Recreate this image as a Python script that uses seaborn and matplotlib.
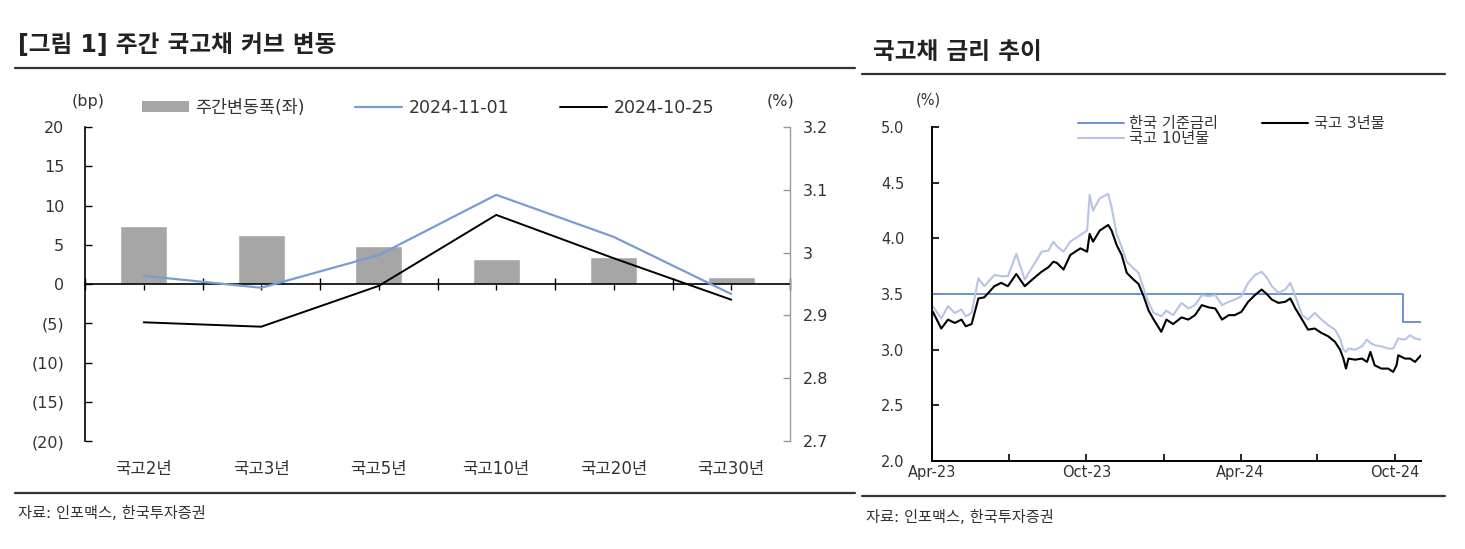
import numpy as np
import pandas as pd
import matplotlib
matplotlib.use("Agg")
import matplotlib.pyplot as plt
import matplotlib.patches as mpatches
from matplotlib.lines import Line2D
from matplotlib.ticker import FuncFormatter, FixedLocator
import matplotlib.dates as mdates
import seaborn as sns

sns.set_theme(style="white")
plt.rcParams["font.family"] = ["DejaVu Sans", "Noto Sans CJK KR"]
plt.rcParams["axes.unicode_minus"] = False

# ---------------- data: left chart ----------------
categories = ["국고2년", "국고3년", "국고5년", "국고10년", "국고20년", "국고30년"]
weekly_change_bp = [7.4, 6.2, 4.9, 3.2, 3.4, 0.9]
yield_2024_11_01 = [2.963, 2.944, 2.996, 3.092, 3.025, 2.934]
yield_2024_10_25 = [2.889, 2.882, 2.947, 3.060, 2.991, 2.925]
left_yticks = [-20, -15, -10, -5, 0, 5, 10, 15, 20]
right_yticks = [2.7, 2.8, 2.9, 3.0, 3.1, 3.2]

# ---------------- data: right chart ----------------
base_dates = ["2023-04-01", "2024-10-11", "2024-11-01"]
base_rate = [3.50, 3.25, 3.25]

obs_dates = [
    "2023-04-02", "2023-04-12", "2023-04-20", "2023-04-28",
    "2023-05-06", "2023-05-11", "2023-05-18", "2023-05-26",
    "2023-06-02", "2023-06-08", "2023-06-14", "2023-06-22", "2023-06-30",
    "2023-07-10", "2023-07-20",
    "2023-08-01", "2023-08-09", "2023-08-17", "2023-08-23", "2023-08-27",
    "2023-09-04", "2023-09-12", "2023-09-24",
    "2023-10-02", "2023-10-05", "2023-10-09", "2023-10-17", "2023-10-27", "2023-10-31",
    "2023-11-06", "2023-11-12", "2023-11-18", "2023-11-26",
    "2023-12-02", "2023-12-08", "2023-12-14", "2023-12-20", "2023-12-29",
    "2024-01-04", "2024-01-12", "2024-01-22", "2024-01-30",
    "2024-02-07", "2024-02-15", "2024-02-23",
    "2024-03-02", "2024-03-10", "2024-03-18", "2024-03-25",
    "2024-04-02", "2024-04-10", "2024-04-18", "2024-04-26",
    "2024-05-02", "2024-05-08", "2024-05-16", "2024-05-24", "2024-05-30",
    "2024-06-05", "2024-06-13", "2024-06-20", "2024-06-28",
    "2024-07-06", "2024-07-14", "2024-07-22", "2024-07-28",
    "2024-08-01", "2024-08-04", "2024-08-07", "2024-08-15", "2024-08-23", "2024-08-29",
    "2024-09-02", "2024-09-07", "2024-09-15", "2024-09-23", "2024-09-29",
    "2024-10-03", "2024-10-05", "2024-10-13", "2024-10-19", "2024-10-25",
    "2024-11-01",
]
ktb_3y = [
    3.34, 3.19, 3.27, 3.24,
    3.27, 3.21, 3.23, 3.46,
    3.47, 3.52, 3.57, 3.60, 3.57,
    3.68, 3.57,
    3.65, 3.70, 3.74, 3.79, 3.78,
    3.72, 3.85, 3.91,
    3.88, 4.04, 3.97, 4.07, 4.12, 4.07,
    3.94, 3.85, 3.69, 3.63,
    3.59, 3.48, 3.35, 3.27, 3.16,
    3.27, 3.23, 3.29, 3.27,
    3.31, 3.40, 3.38,
    3.37, 3.27, 3.31, 3.31,
    3.34, 3.43, 3.49, 3.54,
    3.50, 3.45, 3.42, 3.43, 3.46,
    3.37, 3.27, 3.18, 3.19,
    3.15, 3.12, 3.07, 3.00,
    2.92, 2.83, 2.92, 2.91, 2.92, 2.89,
    2.98, 2.86, 2.83, 2.83, 2.80,
    2.86, 2.95, 2.92, 2.92, 2.89,
    2.95,
]
ktb_10y = [
    3.39, 3.28, 3.39, 3.33,
    3.36, 3.30, 3.33, 3.64,
    3.57, 3.62, 3.67, 3.66, 3.66,
    3.86, 3.63,
    3.78, 3.88, 3.89, 3.97, 3.93,
    3.88, 3.97, 4.03,
    4.07, 4.39, 4.25, 4.36, 4.40, 4.28,
    4.04, 3.92, 3.79, 3.73,
    3.69, 3.55, 3.42, 3.33, 3.30,
    3.35, 3.31, 3.42, 3.37,
    3.40, 3.49, 3.48,
    3.49, 3.40, 3.43, 3.45,
    3.48, 3.60, 3.67, 3.70,
    3.65, 3.57, 3.51, 3.54, 3.60,
    3.48, 3.31, 3.27, 3.33,
    3.27, 3.22, 3.18, 3.10,
    3.00, 2.98, 3.01, 3.00, 3.03, 3.09,
    3.06, 3.04, 3.03, 3.01, 3.01,
    3.07, 3.10, 3.09, 3.13, 3.10,
    3.09,
]

# ---------------- styling ----------------
W, H = 1465, 549
TXT = "#333333"
BAR_C = "#a6a6a6"
BLUE = "#7b9bd3"
BASE_C = "#6f90cc"
LIGHT = "#b8c4e4"

fig = plt.figure(figsize=(W / 100, H / 100), dpi=100)
fig.patch.set_facecolor("white")


def fx(px):
    return px / W


def fy(py):
    return 1 - py / H


# ================= LEFT CHART =================
ax = fig.add_axes([fx(85), fy(441), fx(790 - 85), (441 - 127) / H])
ax2 = ax.twinx()

pos = np.arange(len(categories))
sns.barplot(x=categories, y=weekly_change_bp, ax=ax, color=BAR_C,
            saturation=1, width=0.4, legend=False)
sns.lineplot(x=pos, y=yield_2024_11_01, ax=ax2, color=BLUE, lw=1.6,
             legend=False, sort=False)
sns.lineplot(x=pos, y=yield_2024_10_25, ax=ax2, color="black", lw=1.4,
             legend=False, sort=False)

ax.set_xlim(-0.5, len(categories) - 0.5)
ax.set_ylim(-20, 20)
ax2.set_ylim(2.7, 3.2)
ax.set_xlabel("")
ax.set_ylabel("")
ax2.set_ylabel("")

for s in ["top", "right"]:
    ax.spines[s].set_visible(False)
ax.spines["bottom"].set_position(("data", 0))
ax.spines["bottom"].set_color("black")
ax.spines["bottom"].set_linewidth(1.2)
ax.spines["left"].set_color("black")
ax.spines["left"].set_linewidth(1.2)
for s in ["top", "bottom", "left"]:
    ax2.spines[s].set_visible(False)
ax2.spines["right"].set_color("#9a9a9a")
ax2.spines["right"].set_linewidth(1.0)

ax.xaxis.set_major_locator(FixedLocator(pos))
ax.xaxis.set_minor_locator(FixedLocator(np.arange(-0.5, len(categories), 1.0)))
ax.tick_params(axis="x", which="both", direction="inout", length=9, width=1,
               color="black", labelbottom=False, bottom=True)

ax.set_yticks(left_yticks)
ax.yaxis.set_major_formatter(
    FuncFormatter(lambda v, p: f"({abs(int(round(v)))})" if v < 0 else f"{int(round(v))}"))
ax.tick_params(axis="y", direction="in", length=5, width=1, color="black",
               labelsize=11.5, labelcolor=TXT, pad=15, left=True)

ax2.set_yticks(right_yticks)
ax2.yaxis.set_major_formatter(FuncFormatter(lambda v, p: f"{round(v, 2):g}"))
ax2.tick_params(axis="y", direction="in", length=5, width=1, color="#9a9a9a",
                labelsize=11.5, labelcolor=TXT, pad=9, right=True)

sec = ax.secondary_xaxis(-0.045)
sec.set_xticks(pos, labels=categories)
sec.tick_params(length=0, labelsize=12, labelcolor=TXT)
sec.spines["bottom"].set_visible(False)

fig.text(fx(88), fy(101), "(bp)", fontsize=11.5, color=TXT, ha="center", va="center")
fig.text(fx(781), fy(101), "(%)", fontsize=11.5, color=TXT, ha="center", va="center")

h_bar = mpatches.Patch(facecolor=BAR_C, edgecolor="none")
h_l1 = Line2D([], [], color=BLUE, lw=1.6)
h_l2 = Line2D([], [], color="black", lw=1.4)
fig.legend([h_bar, h_l1, h_l2], ["주간변동폭(좌)", "2024-11-01", "2024-10-25"],
           ncol=3, loc="center left", bbox_to_anchor=(fx(126), fy(108)),
           frameon=False, fontsize=12.5, handlelength=2.7, handleheight=0.6,
           columnspacing=2.9, handletextpad=0.4, labelcolor=TXT)

fig.text(fx(18), fy(45), "[그림 1] 주간 국고채 커브 변동", fontsize=17,
         fontweight="bold", color="#222222", ha="left", va="center")
fig.add_artist(Line2D([fx(15), fx(855)], [fy(68), fy(68)], color="#333333",
                      lw=1.6, transform=fig.transFigure))
fig.add_artist(Line2D([fx(15), fx(855)], [fy(493), fy(493)], color="#333333",
                      lw=1.6, transform=fig.transFigure))
fig.text(fx(18), fy(514), "자료: 인포맥스, 한국투자증권", fontsize=11,
         color=TXT, ha="left", va="center")

# ================= RIGHT CHART =================
axr = fig.add_axes([fx(932), fy(461), fx(1421 - 932), (461 - 127) / H])
bd = pd.to_datetime(base_dates)
od = pd.to_datetime(obs_dates)
sns.lineplot(x=bd, y=base_rate, ax=axr, color=BASE_C, lw=1.4,
             drawstyle="steps-post", legend=False)
sns.lineplot(x=od, y=ktb_10y, ax=axr, color=LIGHT, lw=1.5, legend=False)
sns.lineplot(x=od, y=ktb_3y, ax=axr, color="black", lw=1.5, legend=False)

axr.set_ylim(2.0, 5.0)
axr.set_xlim(pd.Timestamp("2023-04-01"), pd.Timestamp("2024-11-01"))
axr.set_xlabel("")
axr.set_ylabel("")
for s in ["top", "right"]:
    axr.spines[s].set_visible(False)
for s in ["left", "bottom"]:
    axr.spines[s].set_color("black")
    axr.spines[s].set_linewidth(1.4)

axr.set_yticks(np.arange(2.0, 5.01, 0.5))
axr.yaxis.set_major_formatter(FuncFormatter(lambda v, p: f"{v:.1f}"))
axr.tick_params(axis="y", direction="in", length=5, width=1.2, color="black",
                labelsize=10.5, labelcolor=TXT, pad=20, left=True)

axr.xaxis.set_major_locator(mdates.MonthLocator(bymonth=[1, 4, 7, 10]))
axr.xaxis.set_major_formatter(
    FuncFormatter(lambda v, p: mdates.num2date(v).strftime("%b-%y")
                  if mdates.num2date(v).month in (4, 10) else ""))
axr.tick_params(axis="x", direction="in", length=5, width=1.2, color="black",
                labelsize=10.5, labelcolor=TXT, pad=3, bottom=True)

fig.text(fx(928), fy(100), "(%)", fontsize=10.5, color=TXT, ha="center", va="center")

hb = Line2D([], [], color=BASE_C, lw=1.4)
h10 = Line2D([], [], color=LIGHT, lw=1.5)
h3 = Line2D([], [], color="black", lw=1.5)
fig.legend([hb, h10, h3], ["한국 기준금리", "국고 10년물", "국고 3년물"],
           ncol=2, loc="upper left", bbox_to_anchor=(fx(1078), fy(116)),
           frameon=False, fontsize=11, handlelength=3.0, labelspacing=0.0,
           columnspacing=2.9, handletextpad=0.35, labelcolor=TXT,
           borderaxespad=0, borderpad=0)

fig.text(fx(873), fy(52), "국고채 금리 추이", fontsize=17, fontweight="bold",
         color="#222222", ha="left", va="center")
fig.add_artist(Line2D([fx(862), fx(1445)], [fy(74), fy(74)], color="#333333",
                      lw=1.6, transform=fig.transFigure))
fig.add_artist(Line2D([fx(862), fx(1445)], [fy(496), fy(496)], color="#333333",
                      lw=1.6, transform=fig.transFigure))
fig.text(fx(866), fy(517), "자료: 인포맥스, 한국투자증권", fontsize=11,
         color=TXT, ha="left", va="center")

fig.savefig("out.png", dpi=100, facecolor="white")
